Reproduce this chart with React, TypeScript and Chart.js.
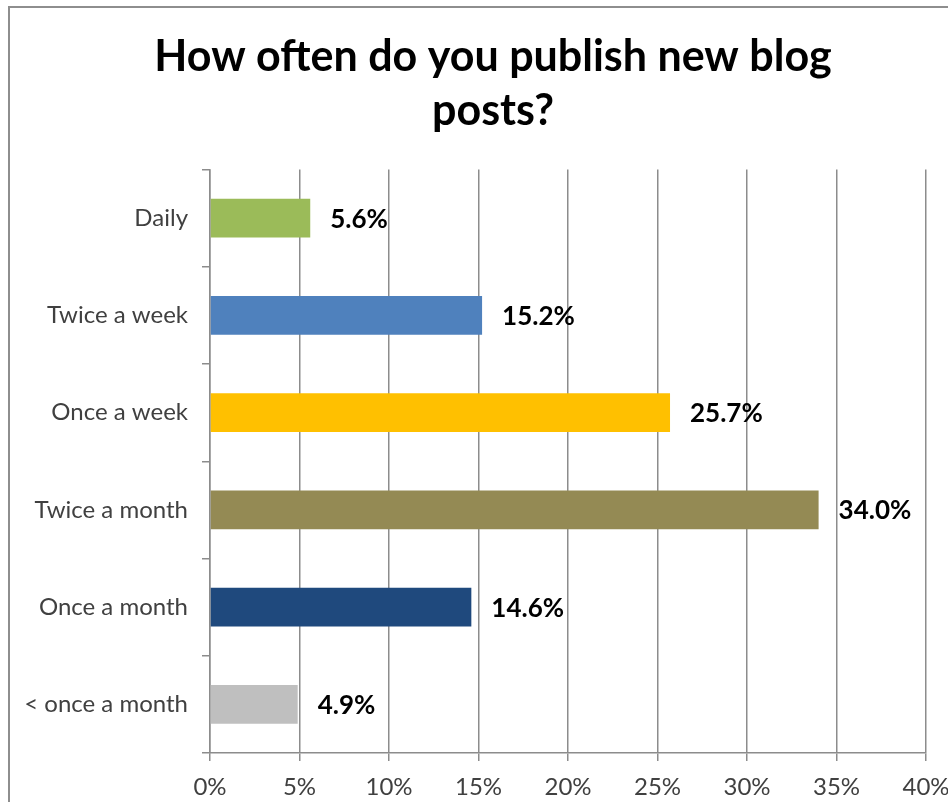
import React, { useEffect, useRef } from "react";
import { Chart, registerables } from "chart.js";

Chart.register(...registerables);

const titleLines = ["How often do you publish new blog", "posts?"];
const categories = ["Daily", "Twice a week", "Once a week", "Twice a month", "Once a month", "< once a month"];
const values = [5.6, 15.2, 25.7, 34.0, 14.6, 4.9];
const barColors = ["#9BBB59", "#4F81BD", "#FFC000", "#948A54", "#1F497D", "#BFBFBF"];
const xTicks = [0, 5, 10, 15, 20, 25, 30, 35, 40];

const FONT = "Lato, 'Open Sans', sans-serif";

// centre the title on the whole canvas instead of the padded area
const widenTitle = {
  id: "widenTitle",
  beforeDraw(chart: any) {
    const t = chart.titleBlock;
    if (t) {
      t.left = 0;
      t.right = chart.width;
      t.width = chart.width;
    }
  },
};

const valueLabels = {
  id: "valueLabels",
  afterDatasetsDraw(chart: any) {
    const ctx = chart.ctx;
    const meta = chart.getDatasetMeta(0);
    ctx.save();
    ctx.font = `bold 26px ${FONT}`;
    ctx.fillStyle = "#000000";
    ctx.textAlign = "left";
    ctx.textBaseline = "middle";
    meta.data.forEach((bar: any, i: number) => {
      const v = chart.data.datasets[0].data[i];
      ctx.fillText(v.toFixed(1) + "%", bar.x + 20, bar.y + 1);
    });
    ctx.restore();
  },
};

export default function App() {
  const ref = useRef<HTMLCanvasElement>(null);
  useEffect(() => {
    if (!ref.current) return;
    const chart = new Chart(ref.current, {
      type: "bar",
      data: {
        labels: categories,
        datasets: [
          {
            data: values,
            backgroundColor: barColors,
            borderWidth: 0,
            barPercentage: 0.4,
            categoryPercentage: 1,
          },
        ],
      },
      options: {
        indexAxis: "y",
        animation: false,
        responsive: false,
        maintainAspectRatio: false,
        layout: { padding: { left: 0, right: 50, top: 0, bottom: 0 } },
        plugins: {
          legend: { display: false },
          tooltip: { enabled: false },
          title: {
            display: true,
            text: titleLines,
            color: "#000000",
            font: { family: FONT, size: 43, weight: "bold", lineHeight: 1.25 },
            padding: { top: 22, bottom: 32 },
          },
        },
        scales: {
          x: {
            min: 0,
            max: 40,
            afterBuildTicks: (scale: any) => {
              scale.ticks = xTicks.map((v) => ({ value: v }));
            },
            afterFit: (scale: any) => {
              scale.height = 49;
            },
            ticks: {
              color: "#404040",
              font: { family: FONT, size: 24 },
              padding: 12,
              maxRotation: 0,
              callback: (v: any) => v + "%",
            },
            grid: {
              color: "#8C8C8C",
              lineWidth: 1.5,
              drawTicks: true,
              tickLength: 8,
            },
            border: { display: true, color: "#8C8C8C", width: 1.5 },
          },
          y: {
            afterFit: (scale: any) => {
              scale.width = 200;
            },
            ticks: {
              color: "#404040",
              font: { family: FONT, size: 24 },
              padding: 14,
            },
            grid: {
              offset: true,
              drawOnChartArea: false,
              drawTicks: true,
              tickLength: 8,
              color: "#8C8C8C",
              lineWidth: 1.5,
            },
            border: { display: true, color: "#8C8C8C", width: 1.5 },
          },
        },
      },
      plugins: [widenTitle, valueLabels],
    });
    return () => chart.destroy();
  }, []);

  return (
    <div
      style={{
        position: "absolute",
        left: 8,
        top: 6,
        width: 940,
        height: 796,
        boxSizing: "border-box",
        borderTop: "2px solid #8E8E8E",
        borderLeft: "2px solid #8E8E8E",
        overflow: "hidden",
        background: "#ffffff",
      }}
    >
      <canvas ref={ref} width={966} height={794} style={{ display: "block" }} />
    </div>
  );
}
